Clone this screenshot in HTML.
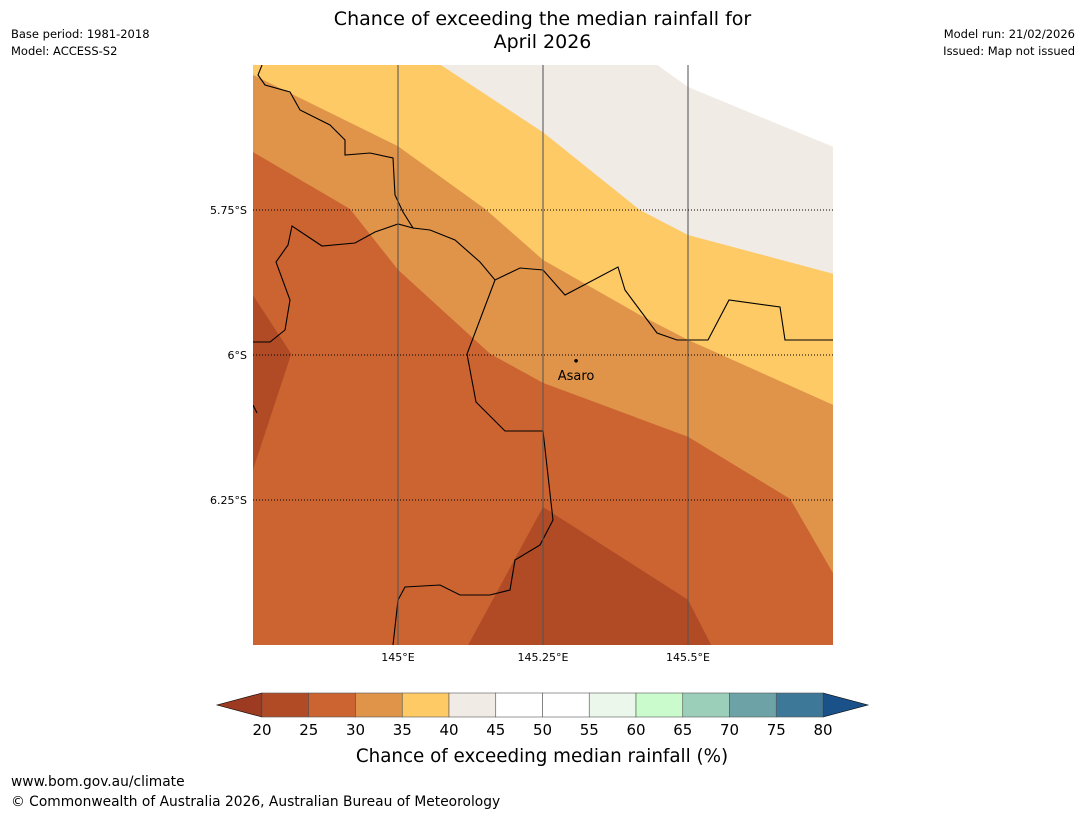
<!DOCTYPE html>
<html><head><meta charset="utf-8">
<style>
html,body{margin:0;padding:0;background:#fff;width:1085px;height:816px;overflow:hidden;font-family:"DejaVu Sans","Liberation Sans",sans-serif;position:relative;}
.t{position:absolute;color:#000;white-space:nowrap;}
</style></head>
<body>
<svg id="svg" width="1085" height="816" style="position:absolute;left:0;top:0;display:block"></svg>
<div class="t" style="left:0;width:1085px;top:8px;text-align:center;font-size:19px;line-height:23px;">Chance of exceeding the median rainfall for<br>April 2026</div>
<div class="t" style="left:11px;top:26px;font-size:11.5px;line-height:17px;">Base period: 1981-2018<br>Model: ACCESS-S2</div>
<div class="t" style="right:10px;top:26px;font-size:11.5px;line-height:17px;text-align:right;">Model run: 21/02/2026<br>Issued: Map not issued</div>
<div class="t" style="left:11px;top:774px;font-size:13.8px;line-height:16px;">www.bom.gov.au/climate</div>
<div class="t" style="left:11px;top:794px;font-size:13.8px;line-height:16px;">© Commonwealth of Australia 2026, Australian Bureau of Meteorology</div>
<script>
// Data (lon E, lat S)
const lonTicks=[145,145.25,145.5];
const lonLabels=["145°E","145.25°E","145.5°E"];
const latTicks=[5.75,6,6.25];
const latLabels=["5.75°S","6°S","6.25°S"];
const b45_50=[[145.447,5.5],[145.5,5.538],[145.75,5.641]];
const b40_45=[[145.074,5.5],[145.25,5.616],[145.417,5.75],[145.5,5.793],[145.75,5.86]];
const b35_40=[[144.75,5.517],[145.0,5.64],[145.15,5.748],[145.25,5.836],[145.417,5.931],[145.5,5.974],[145.75,6.086]];
const b30_35=[[144.75,5.65],[144.917,5.748],[145.0,5.853],[145.159,5.998],[145.25,6.048],[145.5,6.141],[145.676,6.248],[145.75,6.376]];
const low1=[[144.75,5.897],[144.816,5.998],[144.75,6.198]];
const low2=[[145.121,6.5],[145.25,6.262],[145.5,6.422],[145.54,6.5]];
const cbLevels=[20,25,30,35,40,45,50,55,60,65,70,75,80];
const cbColors=["#b14b26","#cc6431","#e0944a","#fdca66","#f0ebe5","#ffffff","#ffffff","#eaf7ea","#c9fbcc","#9ccfb9","#6da3a6","#3d7898"];
const town={name:"Asaro",lon:145.307,lat:6.01};

const X0=253,X1=833,Y0=65,Y1=645,L0=144.75,L1=145.75,A0=5.5,A1=6.5;
const xs=l=>X0+(l-L0)/(L1-L0)*(X1-X0);
const ys=a=>Y0+(a-A0)/(A1-A0)*(Y1-Y0);
const NS="http://www.w3.org/2000/svg";
const svg=document.getElementById('svg');
function mk(t,at,p){const e=document.createElementNS(NS,t);for(const k in at)e.setAttribute(k,at[k]);(p||svg).appendChild(e);return e;}
const pts=a=>a.map(p=>xs(p[0])+','+ys(p[1])).join(' ');
const cp=mk('clipPath',{id:'mc'});mk('rect',{x:X0,y:Y0,width:X1-X0,height:Y1-Y0},cp);
const g=mk('g',{'clip-path':'url(#mc)'});


let r=mk('rect',{x:X0,y:Y0,width:X1-X0,height:Y1-Y0,fill:cbColors[1]},g);


function above(b,fill,name){
 const first=b[0],last=b[b.length-1];
 const full=[[L0,A0],[L0,first[1]],...b,[L1,last[1]],[L1,A0]];
 const e=mk('polygon',{points:pts(full),fill:fill},g);
 
 
}
above(b30_35,cbColors[2],'band-30-35');
above(b35_40,cbColors[3],'band-35-40');
{const b=b40_45;const full=[...b,[L1,A0]];const e=mk('polygon',{points:pts(full),fill:cbColors[4]},g);}
{const b=b45_50;const full=[...b,[L1,A0]];const e=mk('polygon',{points:pts(full),fill:'#ffffff'},g);}
{const e=mk('polygon',{points:pts(low1),fill:cbColors[0]},g);}
{const e=mk('polygon',{points:pts(low2),fill:cbColors[0]},g);}
const bp=["262,65 258,75 265,85 290,92 300,110 330,125 345,140 345,155 370,153 393,158 395,195 403,212 413,228 398,224 375,232 355,243 322,246 292,226 288,245 276,262 290,300 285,330 270,342 253,342",
"413,228 430,230 455,240 480,262 495,280 520,268 543,270 565,295 618,267 625,290 657,333 677,340 708,340 729,300 780,307 785,340 833,340",
"495,280 467,354 476,402 505,431 543,431 553,520 540,545 515,560 510,590 490,595 460,595 440,585 405,587 398,600 393,645",
"253,405 257,413"];
bp.forEach(p=>{const e=mk('polyline',{points:p,fill:'none',stroke:'#000','stroke-width':1.1},g);});
lonTicks.forEach((l,i)=>{const x=xs(l);const e=mk('line',{x1:x,x2:x,y1:Y0,y2:Y1,stroke:'#555','stroke-width':1.3,opacity:0.8});
 const t=mk('text',{x:x,y:661,'font-size':11,'text-anchor':'middle'});t.textContent=lonLabels[i];});
latTicks.forEach((a,i)=>{const y=ys(a);const e=mk('line',{x1:X0,x2:X1,y1:y,y2:y,stroke:'#000','stroke-width':1,'stroke-dasharray':'1,2'});
 const t=mk('text',{x:247,y:y+4,'font-size':11,'text-anchor':'end'});t.textContent=latLabels[i];});
{const c=mk('circle',{cx:xs(town.lon),cy:ys(town.lat),r:1.8,fill:'#000'});
 const t=mk('text',{x:xs(town.lon),y:ys(town.lat)+19,'font-size':13,'text-anchor':'middle'});t.textContent=town.name;}
const CX0=262,CX1=823,CY0=693,CY1=717;const cx=v=>CX0+(v-cbLevels[0])/(cbLevels[cbLevels.length-1]-cbLevels[0])*(CX1-CX0);
{const e=mk('polygon',{points:`${CX0},${CY0} ${CX0},${CY1} 217,705`,fill:'#9c3a22',stroke:'#000','stroke-width':0.6});}
{const e=mk('polygon',{points:`${CX1},${CY0} ${CX1},${CY1} 868,705`,fill:'#1a5188',stroke:'#000','stroke-width':0.6});}
cbColors.forEach((c,i)=>{const e=mk('rect',{x:cx(cbLevels[i]),y:CY0,width:cx(cbLevels[i+1])-cx(cbLevels[i]),height:CY1-CY0,fill:c,stroke:'#555','stroke-width':0.6});});
cbLevels.forEach(v=>{const t=mk('text',{x:cx(v),y:735,'font-size':15,'text-anchor':'middle'});t.textContent=v;});
{const t=mk('text',{x:542,y:762,'font-size':18.3,'text-anchor':'middle'});t.textContent='Chance of exceeding median rainfall (%)';}
</script>
</body></html>
